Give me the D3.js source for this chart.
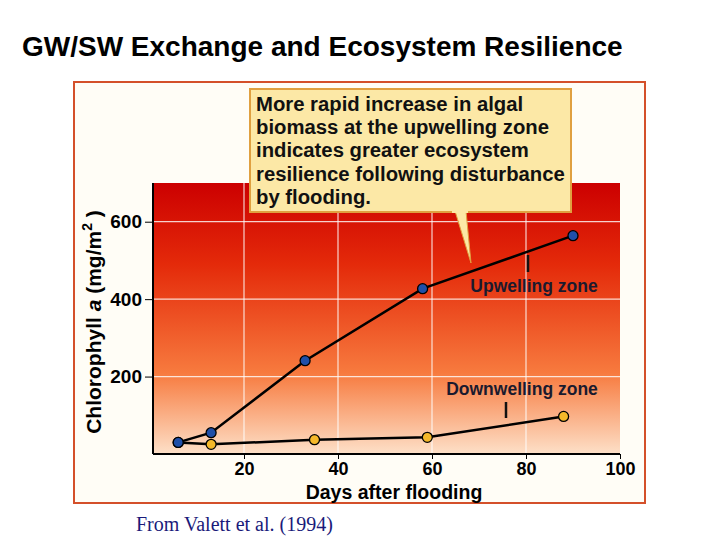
<!DOCTYPE html>
<html><head><meta charset="utf-8">
<script src="https://cdn.jsdelivr.net/npm/d3@7"></script>
<style>body{margin:0;background:#fff}svg{display:block}</style>
</head><body>
<svg id="chart" width="720" height="540"></svg>
<script>
const upDays = [6, 13, 33, 58, 90];
const upValues = [30, 55, 241, 427, 564];
const downDays = [6, 13, 35, 59, 88];
const downValues = [30, 25, 37, 43, 97];
const xTicks = [20, 40, 60, 80, 100];
const yTicks = [200, 400, 600];
const calloutLines = ["More rapid increase in algal", "biomass at the upwelling zone",
  "indicates greater ecosystem", "resilience following disturbance", "by flooding."];

const svg = d3.select("#chart");
const F = "Liberation Sans, Arial, sans-serif";

svg.append("text").attr("x", 22).attr("y", 56).attr("font-family", F)
  .attr("font-size", 28).attr("font-weight", "bold").text("GW/SW Exchange and Ecosystem Resilience");

svg.append("rect").attr("x", 74).attr("y", 82).attr("width", 571).attr("height", 421)
  .attr("fill", "#fffdf6").attr("stroke", "#d4502a").attr("stroke-width", 2);

const x = d3.scaleLinear().domain([0, 100]).range([150, 620]);
const y = d3.scaleLinear().domain([0, 700]).range([454, 183]);

const grad = svg.append("defs").append("linearGradient").attr("id", "bg")
  .attr("x1", 0).attr("y1", 0).attr("x2", 0).attr("y2", 1);
grad.append("stop").attr("offset", "0%").attr("stop-color", "#cc0000");
grad.append("stop").attr("offset", "30%").attr("stop-color", "#e42a0a");
grad.append("stop").attr("offset", "70%").attr("stop-color", "#f77a3e");
grad.append("stop").attr("offset", "100%").attr("stop-color", "#fde0c8");

svg.append("rect").attr("x", 153).attr("y", y(700)).attr("width", x(100) - 153)
  .attr("height", y(0) - y(700)).attr("fill", "url(#bg)");

const g = svg.append("g");
g.selectAll(".vg").data(xTicks.slice(0, 4)).enter().append("line")
  .attr("x1", d => x(d)).attr("x2", d => x(d)).attr("y1", y(700)).attr("y2", y(0))
  .attr("stroke", "#fff").attr("stroke-width", 1.2).attr("opacity", 0.8);
g.selectAll(".hg").data(yTicks).enter().append("line")
  .attr("x1", 153).attr("x2", x(100)).attr("y1", d => y(d)).attr("y2", d => y(d))
  .attr("stroke", "#fff").attr("stroke-width", 1.2).attr("opacity", 0.8);

const xAxis = svg.append("g").attr("transform", `translate(0,${y(0)})`)
  .call(d3.axisBottom(x).tickValues(xTicks).tickSize(5));
xAxis.select(".domain").attr("d", `M153,0H${x(100)}`).attr("stroke-width", 2);
xAxis.selectAll("text").attr("font-family", F).attr("font-size", 18).attr("font-weight", "bold").attr("dy", "0.7em");

const yAxis = svg.append("g").attr("transform", "translate(153,0)")
  .call(d3.axisLeft(y).tickValues(yTicks).tickSize(8));
yAxis.select(".domain").attr("d", `M0,${y(700)}V${y(0)}`).attr("stroke-width", 2);
yAxis.selectAll("text").attr("font-family", F).attr("font-size", 19).attr("font-weight", "bold");

svg.append("text").attr("x", 394).attr("y", 499).attr("text-anchor", "middle")
  .attr("font-family", F).attr("font-size", 19.5).attr("font-weight", "bold").text("Days after flooding");

const yl = svg.append("text").attr("transform", "translate(101,322) rotate(-90)")
  .attr("text-anchor", "middle").attr("font-family", F).attr("font-size", 21).attr("font-weight", "bold");
yl.append("tspan").text("Chlorophyll ");
yl.append("tspan").attr("font-style", "italic").text("a");
yl.append("tspan").text(" (mg/m");
yl.append("tspan").attr("font-size", 14).attr("dy", -9).text("2");
yl.append("tspan").attr("dy", 9).text(" )");

const line = d3.line().x(d => x(d[0])).y(d => y(d[1]));
const up = upDays.map((d, i) => [d, upValues[i]]);
const down = downDays.map((d, i) => [d, downValues[i]]);
[[down, "#f5b82a"], [up, "#1f4fa8"]].forEach(([pts, col]) => {
  svg.append("path").datum(pts).attr("d", line).attr("fill", "none").attr("stroke", "#000").attr("stroke-width", 2.5);
  svg.selectAll(null).data(pts).enter().append("circle")
    .attr("cx", d => x(d[0])).attr("cy", d => y(d[1])).attr("r", 5)
    .attr("fill", col).attr("stroke", "#000").attr("stroke-width", 1.3);
});

// labels with small markers
svg.append("line").attr("x1", 528).attr("x2", 528).attr("y1", 255).attr("y2", 272).attr("stroke", "#111").attr("stroke-width", 2.5);
svg.append("text").attr("x", 534).attr("y", 292).attr("text-anchor", "middle").attr("font-family", F)
  .attr("font-size", 17.5).attr("font-weight", "bold").attr("fill", "#1a1a2e").text("Upwelling zone");
svg.append("line").attr("x1", 506).attr("x2", 506).attr("y1", 402).attr("y2", 418).attr("stroke", "#111").attr("stroke-width", 2.5);
svg.append("text").attr("x", 522).attr("y", 395).attr("text-anchor", "middle").attr("font-family", F)
  .attr("font-size", 17.5).attr("font-weight", "bold").attr("fill", "#1a1a2e").text("Downwelling zone");

// callout
svg.append("path").attr("d", "M455,211 L471,263 L466,211 Z").attr("fill", "#fce8a6").attr("stroke", "#e0a040").attr("stroke-width", 1);
svg.append("rect").attr("x", 250).attr("y", 89).attr("width", 321).attr("height", 123)
  .attr("fill", "#fce8a6").attr("stroke", "#e0a040").attr("stroke-width", 2);
svg.append("rect").attr("x", 452).attr("y", 209).attr("width", 16).attr("height", 4).attr("fill", "#fce8a6");
svg.append("text").attr("font-family", F).attr("font-size", 20.3).attr("font-weight", "bold").attr("fill", "#111")
  .selectAll("tspan").data(calloutLines).enter().append("tspan")
  .attr("x", 256).attr("y", (d, i) => 111 + i * 23.2).text(d => d);

svg.append("text").attr("x", 136).attr("y", 531).attr("font-family", "Liberation Serif, Times New Roman, serif")
  .attr("font-size", 20).attr("fill", "#1a1a7a").text("From Valett et al. (1994)");
</script>
</body></html>
